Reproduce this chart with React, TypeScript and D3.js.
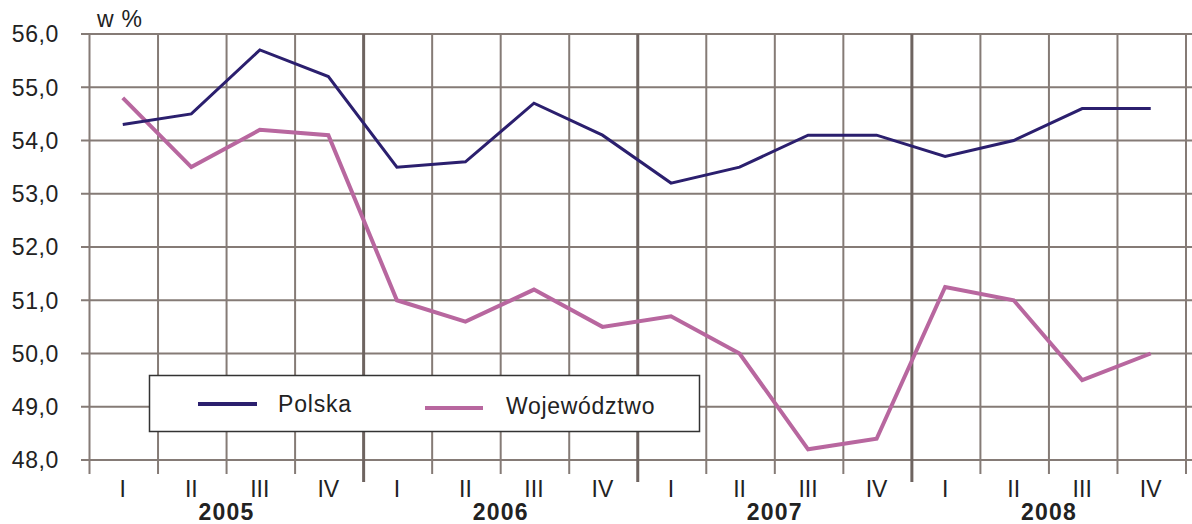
import React from 'react';
import * as d3 from 'd3';

const years = ['2005', '2006', '2007', '2008'];
const quarters = ['I', 'II', 'III', 'IV'];
const polska = [54.3, 54.5, 55.7, 55.2, 53.5, 53.6, 54.7, 54.1, 53.2, 53.5, 54.1, 54.1, 53.7, 54.0, 54.6, 54.6];
const wojewodztwo = [54.8, 53.5, 54.2, 54.1, 51.0, 50.6, 51.2, 50.5, 50.7, 50.0, 48.2, 48.4, 51.25, 51.0, 49.5, 50.0];
const yTicks = [48, 49, 50, 51, 52, 53, 54, 55, 56];

const W = 1192;
const H = 524;
const FONT = 'Liberation Sans, Arial, sans-serif';
const GRID = '#857b76';
const YEAR_LINE = '#6e6460';
const C_POL = '#2b1f6e';
const C_WOJ = '#b8679f';

export default function App() {
  const keys = years.flatMap(y => quarters.map(q => `${y}-${q}`));
  const x = d3.scaleBand<string>().domain(keys).range([89.5, 1186]).padding(0);
  const y = d3.scaleLinear().domain([48, 56]).range([460, 34]);
  const bw = x.bandwidth();
  const cx = (i: number) => (x(keys[i]) as number) + bw / 2 - 1;

  const line = d3.line<number>().x((_, i) => cx(i)).y(d => y(d));

  // vertical grid boundaries
  const bounds = keys.map(k => x(k) as number).concat([x.range()[1]]);

  return (
    <svg width={W} height={H} style={{ position: 'absolute', left: 0, top: 0, background: '#fff' }}>
      {/* horizontal grid */}
      {yTicks.map(t => (
        <line key={t} x1={81} x2={W} y1={y(t)} y2={y(t)} stroke={GRID} strokeWidth={2} />
      ))}
      {/* vertical grid */}
      {bounds.map((b, i) => {
        const isYear = i % 4 === 0 && i > 0 && i < 16;
        return (
          <line key={i} x1={b} x2={b} y1={y(56)} y2={isYear ? 482 : 474}
            stroke={isYear ? YEAR_LINE : GRID} strokeWidth={isYear ? 3 : 2} />
        );
      })}

      {/* y labels */}
      {yTicks.map(t => (
        <text key={t} x={59} y={y(t)} dy="0.36em" textAnchor="end" fontFamily={FONT}
          fontSize={23} letterSpacing={0.6} fill="#222">
          {d3.format('.1f')(t).replace('.', ',')}
        </text>
      ))}
      <text x={97} y={27} fontFamily={FONT} fontSize={23} letterSpacing={0.8} fill="#222">w %</text>

      {/* series */}
      <path d={line(wojewodztwo) || ''} fill="none" stroke={C_WOJ} strokeWidth={4} strokeLinejoin="miter" />
      <path d={line(polska) || ''} fill="none" stroke={C_POL} strokeWidth={3} strokeLinejoin="miter" />

      {/* legend */}
      <rect x={149.5} y={375.5} width={550} height={56} fill="#fff" stroke="#333" strokeWidth={1.5} />
      <line x1={198} x2={257} y1={404} y2={404} stroke={C_POL} strokeWidth={4} />
      <text x={278} y={404} dy="0.36em" fontFamily={FONT} fontSize={23} letterSpacing={0.8} fill="#222">Polska</text>
      <line x1={425} x2={483} y1={408} y2={408} stroke={C_WOJ} strokeWidth={4} />
      <text x={506} y={406} dy="0.36em" fontFamily={FONT} fontSize={23} letterSpacing={0.7} fill="#222">Województwo</text>

      {/* x labels */}
      {keys.map((k, i) => (
        <text key={k} x={cx(i)} y={497} textAnchor="middle" fontFamily={FONT} fontSize={23}
          fill="#222">{quarters[i % 4]}</text>
      ))}
      {years.map((yr, i) => (
        <text key={yr} x={(bounds[i * 4] + bounds[i * 4 + 4]) / 2} y={520} textAnchor="middle"
          fontFamily={FONT} fontSize={23} fontWeight="bold" letterSpacing={1.2} fill="#222">{yr}</text>
      ))}
    </svg>
  );
}
